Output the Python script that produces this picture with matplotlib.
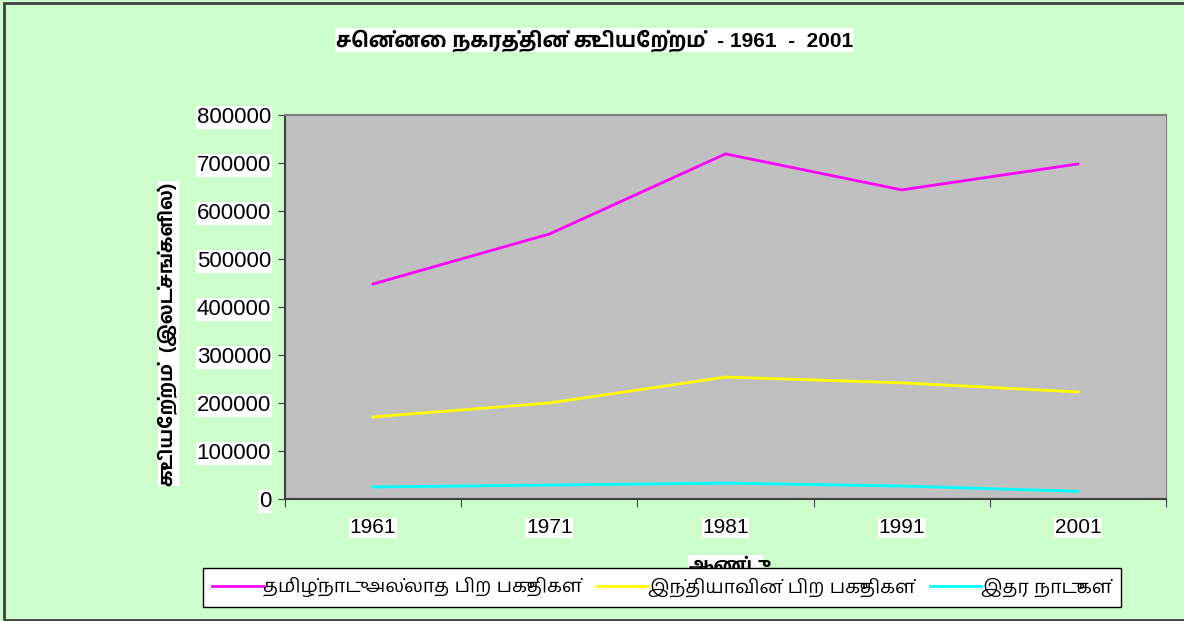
import matplotlib
matplotlib.use("Agg")
import matplotlib.pyplot as plt
from matplotlib.patches import Rectangle

# Data
years = ["1961", "1971", "1981", "1991", "2001"]
other_tn = [448000, 552000, 719000, 644000, 698000]
other_india = [171000, 200000, 254000, 242000, 223000]
other_countries = [25000, 29000, 33000, 27000, 16000]

series_labels = ["தமிழ்நாடு அல்லாத பிற பகுதிகள்",
                 "இந்தியாவின் பிற பகுதிகள்",
                 "இதர நாடுகள்"]
title = "சென்னை நகரத்தின் குடியேற்றம்  - 1961  -  2001"
ylabel = "குடியேற்றம்  (இலட்சங்களில்)"
xlabel = "ஆண்டு"
yticks = [0, 100000, 200000, 300000, 400000, 500000, 600000, 700000, 800000]

# Latin glyphs from Liberation Sans, Tamil ones fall back to Hind Madurai
fonts = ["Liberation Sans", "Hind Madurai", "DejaVu Sans"]
plt.rcParams["font.family"] = fonts

white_box = dict(facecolor="white", edgecolor="none", pad=0.5)

fig = plt.figure(figsize=(11.84, 6.21), dpi=100, facecolor="#CCFFCC")
ax = fig.add_axes([0.2407, 0.1965, 0.7441, 0.6183])
ax.set_facecolor("#C0C0C0")

x = range(len(years))
ax.plot(x, other_tn, color="#FF00FF", lw=2, label=series_labels[0])
ax.plot(x, other_india, color="#FFFF00", lw=2, label=series_labels[1])
ax.plot(x, other_countries, color="#00FFFF", lw=2, label=series_labels[2])

ax.set_xlim(-0.5, len(years) - 0.5)
ax.set_ylim(0, 800000)
ax.set_yticks(yticks)
ax.set_yticklabels([str(v) for v in yticks], fontsize=16)
ax.set_xticks([i - 0.5 for i in range(len(years) + 1)])
ax.set_xticklabels([])
ax.set_xticks(list(x), minor=True)
ax.set_xticklabels(years, minor=True, fontsize=15)
ax.tick_params(axis="x", which="minor", length=0, pad=14)
ax.tick_params(axis="x", which="major", length=6, direction="out", color="#404040")
ax.tick_params(axis="y", length=5, direction="out", color="#404040", pad=5)
for lab in ax.get_yticklabels() + ax.get_xticklabels(minor=True):
    lab.set_bbox(white_box)

ax.spines["left"].set_color("#404040")
ax.spines["bottom"].set_color("#404040")
ax.spines["left"].set_linewidth(1.5)
ax.spines["bottom"].set_linewidth(1.5)
ax.spines["top"].set_color("#808080")
ax.spines["right"].set_color("#808080")
ax.spines["top"].set_linewidth(1.5)

ax.set_ylabel(ylabel, fontsize=14, fontweight="bold", bbox=white_box)
ax.yaxis.set_label_coords(-0.121, 0.43)
ax.set_xlabel(xlabel, fontsize=14, fontweight="bold", labelpad=13, bbox=white_box)

fig.text(0.502, 0.935, title, ha="center", va="center", fontsize=15,
         fontweight="bold", bbox=white_box)

leg = ax.legend(loc="center", bbox_to_anchor=(0.559, 0.054), bbox_transform=fig.transFigure,
                ncol=3, fontsize=14, frameon=True, fancybox=False, framealpha=1,
                handlelength=2.6, handletextpad=0.0, columnspacing=0.8,
                borderpad=0.5, borderaxespad=0)
leg.get_frame().set_edgecolor("black")
leg.get_frame().set_linewidth(1)
leg.set_zorder(10)

# Chart border
fig.patches.append(Rectangle((4 / 1184, 1 / 621), 1.0, 617 / 621, transform=fig.transFigure,
                             fill=False, edgecolor="#404040", linewidth=2))

fig.savefig("out.png", facecolor=fig.get_facecolor())
